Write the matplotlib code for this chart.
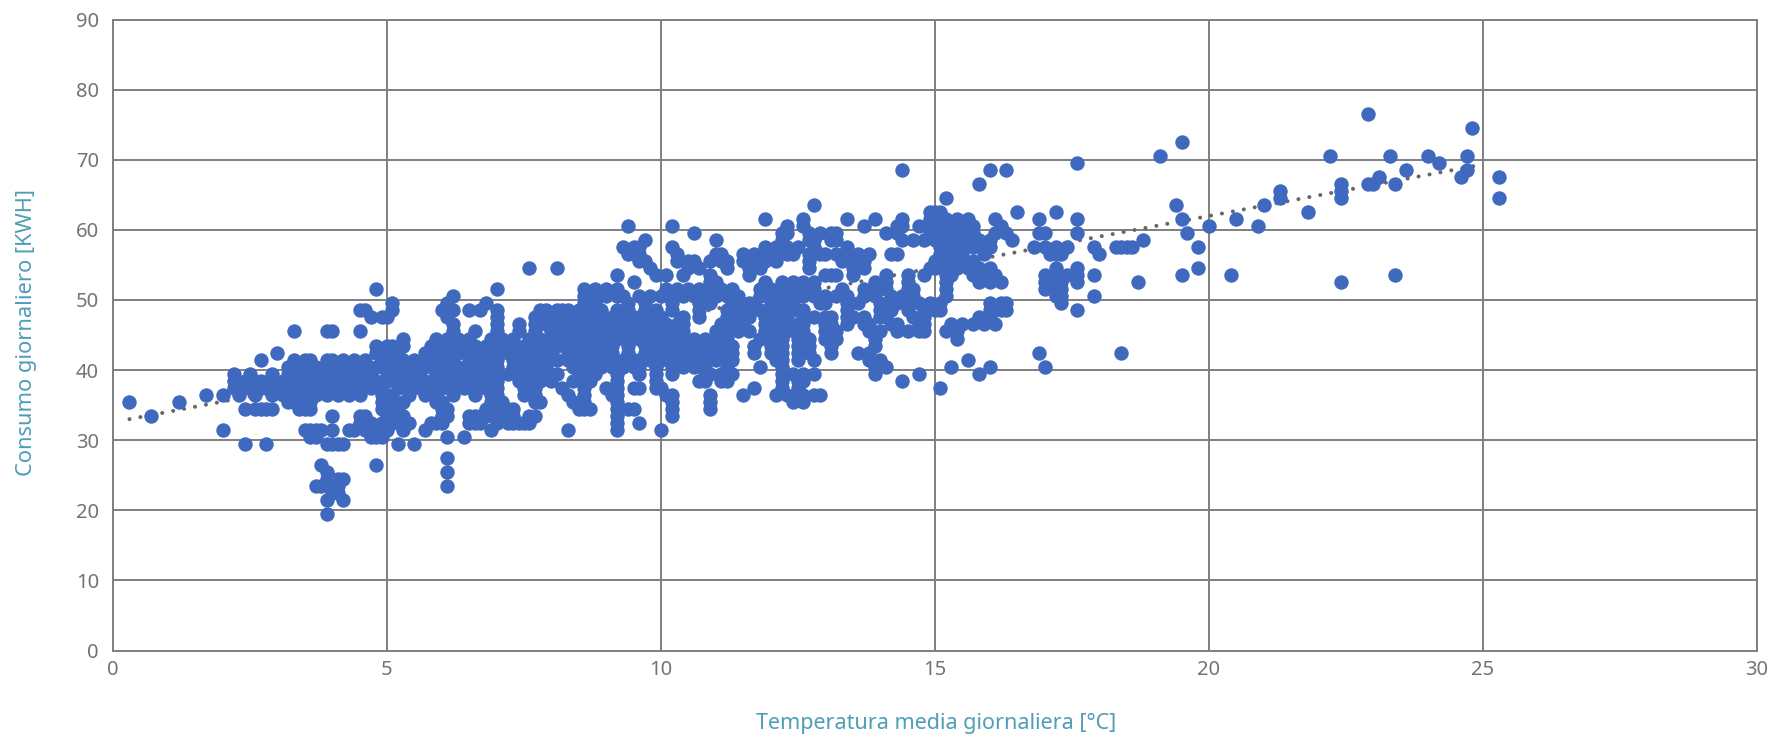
import matplotlib
matplotlib.use("Agg")
import matplotlib.pyplot as plt

x_label = "Temperatura media giornaliera [°C]"
y_label = "Consumo giornaliero [KWH]"
x_ticks = [0, 5, 10, 15, 20, 25, 30]
y_ticks = [0, 10, 20, 30, 40, 50, 60, 70, 80, 90]
trend_temp = [0.3, 24.84]
trend_kwh = [33.0, 69.1]

t765 = [22.9]
t745 = [24.8]
t725 = [19.5]
t705 = [19.1, 22.2, 23.3, 24.0, 24.7]
t695 = [17.6, 24.2]
t685 = [14.4, 16.0, 16.3, 23.6, 24.7]
t675 = [23.1, 24.6, 25.3]
t665 = [15.8, 22.4, 22.9, 23.0, 23.4]
t655 = [21.3, 22.4]
t645 = [15.2, 21.3, 22.4, 25.3]
t635 = [12.8, 19.4, 21.0]
t625 = [14.9, 15.0, 15.1, 16.5, 17.2, 21.8]
t615 = [11.9, 12.6, 13.4, 13.9, 14.4, 14.9, 15.0, 15.2, 15.4, 15.6, 16.1, 16.9, 17.6, 19.5, 20.5]
t605 = [9.4, 10.2, 12.3, 12.6, 13.7, 14.3, 14.4, 14.7, 14.9, 15.0, 15.2, 15.4, 15.5, 15.7, 16.2, 20.0, 20.9]
t595 = [10.6, 12.2, 12.3, 12.7, 12.9, 13.1, 13.2, 14.1, 14.3, 14.9, 15.1, 15.3, 15.5, 15.7, 16.1, 16.3, 16.9, 17.0, 17.6, 19.6]
t585 = [9.7, 11.0, 12.2, 12.7, 12.8, 13.1, 13.2, 14.4, 14.6, 14.8, 15.0, 15.2, 15.4, 15.6, 15.8, 16.0, 16.4, 18.8]
t575 = [9.3, 9.5, 9.6, 10.2, 11.9, 12.1, 12.3, 12.5, 12.8, 13.4, 15.1, 15.3, 15.5, 15.7, 15.9, 16.0, 16.8, 17.0, 17.2, 17.4, 17.9, 18.3, 18.4, 18.5, 18.6, 19.8]
t565 = [9.4, 9.5, 9.6, 10.3, 11.0, 11.1, 11.5, 11.7, 11.9, 12.1, 12.3, 12.4, 12.7, 12.9, 13.0, 13.2, 13.4, 13.6, 13.8, 14.2, 14.3, 15.1, 15.3, 15.5, 15.9, 17.1, 17.2, 17.3, 18.0]
t555 = [9.6, 9.7, 10.3, 10.5, 10.6, 10.9, 11.1, 11.2, 11.5, 11.7, 11.9, 12.1, 12.7, 13.3, 13.5, 13.7, 15.0, 15.2, 15.4, 15.5, 15.7]
t545 = [7.6, 8.1, 9.8, 10.5, 10.7, 11.2, 11.6, 11.8, 12.7, 13.5, 13.7, 14.9, 15.0, 15.2, 15.4, 15.6, 15.8, 16.0, 17.2, 17.6, 19.8]
t535 = [9.2, 9.9, 10.1, 10.4, 10.9, 11.6, 13.0, 13.1, 13.2, 13.5, 14.1, 14.5, 14.8, 15.2, 15.3, 15.7, 15.9, 16.1, 17.0, 17.2, 17.4, 17.6, 17.9, 19.5, 20.4, 23.4]
t525 = [9.5, 10.9, 11.0, 11.9, 12.2, 12.4, 12.6, 12.8, 13.9, 14.1, 14.5, 15.2, 15.8, 16.0, 16.2, 17.0, 17.2, 17.3, 17.6, 18.7, 22.4]
t515 = [4.8, 7.0, 8.6, 8.8, 9.0, 9.2, 10.1, 10.3, 10.5, 10.7, 10.9, 11.1, 11.3, 11.8, 12.0, 12.2, 12.4, 12.6, 12.8, 13.3, 13.7, 13.9, 14.1, 14.5, 14.6, 15.2, 17.0, 17.2, 17.3]
t505 = [6.2, 8.6, 8.8, 9.0, 9.2, 9.3, 9.6, 9.8, 10.0, 10.2, 10.4, 10.6, 10.8, 11.0, 11.2, 11.4, 11.8, 12.0, 12.2, 12.4, 12.6, 12.8, 13.0, 13.2, 13.4, 13.7, 13.9, 14.2, 14.4, 14.6, 15.2, 17.2, 17.3, 17.9]
t495 = [5.1, 6.1, 6.8, 8.6, 8.8, 9.4, 9.7, 10.2, 10.7, 10.9, 11.3, 11.6, 11.7, 12.0, 12.2, 12.4, 12.9, 13.0, 13.4, 13.6, 14.0, 14.2, 14.3, 14.5, 14.7, 14.9, 15.1, 16.0, 16.2, 16.3, 17.3]
t485 = [4.5, 4.6, 5.1, 6.0, 6.1, 6.2, 6.5, 6.7, 7.0, 7.8, 7.9, 8.1, 8.2, 8.3, 8.5, 8.7, 8.9, 9.2, 9.4, 9.7, 9.9, 10.2, 10.7, 11.2, 11.4, 11.6, 11.8, 12.0, 12.2, 12.4, 12.6, 13.4, 14.0, 14.2, 14.5, 14.8, 15.0, 15.1, 16.0, 16.2, 16.3, 17.6]
t475 = [4.7, 4.9, 5.0, 6.1, 7.0, 7.7, 7.8, 7.9, 8.0, 8.1, 8.2, 8.3, 8.5, 8.7, 8.9, 9.1, 9.3, 9.5, 9.6, 9.8, 10.0, 10.4, 10.7, 11.2, 11.4, 11.6, 11.9, 12.1, 12.3, 12.6, 12.8, 13.0, 13.1, 13.4, 13.5, 13.7, 14.0, 14.1, 14.6, 14.8, 15.8, 16.0]
t465 = [6.2, 7.0, 7.4, 7.7, 7.9, 8.1, 8.3, 8.5, 8.7, 8.9, 9.1, 9.3, 9.5, 9.7, 9.9, 10.1, 10.3, 10.4, 11.1, 11.3, 11.5, 11.9, 12.1, 12.3, 12.5, 12.6, 13.0, 13.1, 13.4, 13.7, 13.8, 14.2, 14.3, 14.7, 14.8, 15.3, 15.5, 15.7, 15.9, 16.1]
t455 = [3.3, 3.9, 4.0, 4.5, 6.2, 6.6, 7.0, 7.4, 7.7, 8.0, 8.2, 8.4, 8.6, 8.8, 9.0, 9.2, 9.4, 9.6, 9.8, 10.0, 10.2, 10.4, 11.0, 11.2, 11.4, 11.6, 11.9, 12.1, 12.3, 12.5, 12.6, 13.0, 13.2, 13.8, 14.0, 14.3, 14.5, 14.7, 14.8, 15.2, 15.4]
t445 = [5.3, 5.9, 6.1, 6.3, 6.5, 6.9, 7.1, 7.3, 7.6, 7.8, 8.0, 8.2, 8.4, 8.6, 8.8, 9.0, 9.2, 9.4, 9.6, 9.8, 10.0, 10.2, 10.4, 10.6, 10.8, 11.0, 11.2, 11.8, 12.0, 12.2, 12.5, 12.7, 13.0, 13.2, 13.9, 15.4]
t435 = [4.8, 5.0, 5.1, 5.3, 5.8, 6.0, 6.2, 6.4, 6.6, 6.8, 7.0, 7.2, 7.3, 7.5, 7.7, 7.9, 8.1, 8.3, 8.5, 8.7, 8.9, 9.1, 9.4, 9.7, 9.9, 10.1, 10.3, 10.5, 10.7, 10.9, 11.1, 11.3, 11.7, 12.0, 12.2, 12.5, 12.7, 13.1, 13.9]
t425 = [3.0, 4.8, 5.0, 5.2, 5.7, 5.9, 6.1, 6.3, 6.5, 6.7, 6.8, 7.0, 7.2, 7.4, 7.6, 7.8, 8.0, 8.3, 8.5, 8.7, 8.9, 9.1, 9.4, 9.7, 9.9, 10.1, 10.3, 10.5, 10.7, 10.9, 11.1, 11.3, 11.7, 12.0, 12.2, 12.5, 12.7, 13.1, 13.6, 13.8, 16.9, 18.4]
t415 = [2.7, 3.3, 3.5, 3.6, 3.9, 4.0, 4.2, 4.4, 4.6, 4.9, 5.1, 5.3, 5.5, 5.7, 5.9, 6.1, 6.2, 6.5, 6.7, 6.9, 7.0, 7.3, 7.5, 7.7, 7.9, 8.1, 8.3, 8.5, 8.7, 8.9, 9.1, 9.3, 9.5, 9.6, 9.8, 10.0, 10.2, 10.4, 10.6, 10.8, 11.0, 11.2, 11.3, 12.1, 12.2, 12.5, 12.8, 13.8, 14.0, 15.6]
t405 = [3.2, 3.4, 3.6, 3.7, 3.9, 4.1, 4.2, 4.4, 4.6, 4.8, 5.0, 5.2, 5.4, 5.6, 5.7, 5.9, 6.1, 6.3, 6.5, 6.7, 6.9, 7.0, 7.3, 7.5, 7.7, 7.9, 8.4, 8.5, 8.7, 8.9, 9.1, 9.3, 9.5, 9.6, 9.9, 10.2, 10.4, 10.6, 10.8, 11.2, 11.8, 12.2, 13.9, 14.1, 15.3, 16.0, 17.0]
t395 = [2.2, 2.5, 2.9, 3.2, 3.4, 3.6, 3.7, 3.9, 4.1, 4.3, 4.5, 4.7, 5.0, 5.2, 5.4, 5.6, 5.9, 6.1, 6.3, 6.5, 6.7, 6.9, 7.0, 7.2, 7.4, 7.6, 7.8, 8.0, 8.1, 8.5, 8.6, 8.8, 9.2, 9.6, 9.9, 10.2, 10.8, 10.9, 11.1, 11.3, 12.2, 12.4, 12.6, 12.8, 13.9, 14.7, 15.8]
t385 = [2.2, 2.4, 2.6, 2.7, 2.9, 3.1, 3.3, 3.5, 3.6, 3.7, 3.9, 4.1, 4.3, 4.5, 4.6, 4.8, 5.0, 5.2, 5.4, 5.6, 5.8, 6.0, 6.2, 6.4, 6.6, 6.8, 7.0, 7.4, 7.6, 7.8, 8.0, 8.4, 8.6, 8.7, 9.2, 9.9, 10.7, 10.8, 11.1, 11.2, 12.2, 12.5, 12.6, 14.4]
t375 = [2.2, 2.4, 2.6, 2.7, 2.8, 3.0, 3.2, 3.4, 3.6, 3.7, 3.9, 4.1, 4.3, 4.5, 4.7, 4.9, 5.2, 5.4, 5.6, 5.8, 6.0, 6.2, 6.4, 6.6, 6.8, 7.0, 7.5, 7.7, 8.2, 8.6, 9.0, 9.2, 9.5, 9.6, 9.9, 10.0, 11.7, 12.2, 12.5, 15.1]
t365 = [1.7, 2.0, 2.3, 2.6, 2.9, 3.1, 3.3, 3.5, 3.7, 3.9, 4.1, 4.3, 4.5, 4.9, 5.1, 5.4, 5.7, 5.9, 6.2, 6.6, 6.9, 7.0, 7.5, 7.7, 8.3, 8.6, 9.1, 9.2, 10.1, 10.2, 10.9, 11.5, 12.1, 12.3, 12.5, 12.6, 12.8, 12.9]
t355 = [0.3, 1.2, 3.2, 3.3, 3.4, 3.5, 3.6, 4.9, 5.0, 5.1, 5.3, 5.9, 6.0, 6.9, 7.0, 7.1, 7.7, 7.8, 8.4, 8.5, 8.6, 9.2, 10.2, 10.9, 12.4, 12.6]
t345 = [2.4, 2.6, 2.7, 2.8, 2.9, 3.4, 3.5, 3.6, 4.9, 5.0, 5.1, 5.2, 6.0, 6.1, 6.8, 6.9, 7.0, 7.1, 7.2, 7.3, 8.5, 8.6, 8.7, 9.2, 9.4, 9.5, 10.2, 10.9]
t335 = [0.7, 4.0, 4.5, 4.6, 5.0, 5.1, 5.3, 6.0, 6.1, 6.5, 6.6, 6.7, 6.8, 7.0, 7.1, 7.2, 7.3, 7.6, 7.7, 9.2, 10.2]
t325 = [4.5, 4.7, 4.9, 5.0, 5.1, 5.2, 5.3, 5.4, 5.8, 5.9, 6.0, 6.5, 6.6, 6.7, 7.0, 7.2, 7.3, 7.4, 7.5, 7.6, 9.2, 9.6]
t315 = [2.0, 3.5, 3.6, 3.7, 3.8, 4.0, 4.3, 4.4, 4.6, 4.7, 4.8, 4.9, 5.0, 5.3, 5.7, 6.9, 8.3, 9.2, 10.0]
t305 = [3.6, 3.7, 4.7, 4.8, 4.9, 6.1, 6.4]
t295 = [2.4, 2.8, 3.9, 4.0, 4.1, 4.2, 5.2, 5.5]
t275 = [6.1]
t265 = [3.8, 4.8]
t255 = [3.9, 6.1]
t245 = [3.9, 4.0, 4.1, 4.2]
t235 = [3.7, 3.8, 4.0, 4.1, 6.1]
t225 = [4.0, 4.1]
t215 = [3.9, 4.2]
t195 = [3.9]

kwh_levels = [76.5, 74.5, 72.5, 70.5, 69.5, 68.5, 67.5, 66.5, 65.5, 64.5, 63.5, 62.5, 61.5, 60.5,
              59.5, 58.5, 57.5, 56.5, 55.5, 54.5, 53.5, 52.5, 51.5, 50.5, 49.5, 48.5, 47.5, 46.5,
              45.5, 44.5, 43.5, 42.5, 41.5, 40.5, 39.5, 38.5, 37.5, 36.5, 35.5, 34.5, 33.5, 32.5,
              31.5, 30.5, 29.5, 27.5, 26.5, 25.5, 24.5, 23.5, 22.5, 21.5, 19.5]
temps_by_level = [t765, t745, t725, t705, t695, t685, t675, t665, t655, t645, t635, t625, t615, t605,
                  t595, t585, t575, t565, t555, t545, t535, t525, t515, t505, t495, t485, t475, t465,
                  t455, t445, t435, t425, t415, t405, t395, t385, t375, t365, t355, t345, t335, t325,
                  t315, t305, t295, t275, t265, t255, t245, t235, t225, t215, t195]

temperature = [t for ts in temps_by_level for t in ts]
consumption = [k for k, ts in zip(kwh_levels, temps_by_level) for _ in ts]

plt.rcParams["font.family"] = ["Noto Sans", "DejaVu Sans"]
GRID = "#7f7f7f"
TEXT = "#737373"
TEAL = "#4f9db8"
BLUE = "#3f69bf"

fig = plt.figure(figsize=(17.73, 7.38), dpi=100)
ax = fig.add_axes([113 / 1773, (738 - 650.5) / 738, (1757 - 113) / 1773, (650.5 - 19.5) / 738])
ax.set_xlim(0, 30)
ax.set_ylim(0, 90)
ax.set_xticks(x_ticks)
ax.set_yticks(y_ticks)
ax.grid(True, color=GRID, linewidth=1.4)
ax.set_axisbelow(True)
for s in ax.spines.values():
    s.set_color(GRID)
    s.set_linewidth(1.4)
ax.tick_params(length=0, labelsize=14.5, labelcolor=TEXT, pad=10)
ax.tick_params(axis="x", pad=7)

ax.plot(trend_temp, trend_kwh, color="#666666", linewidth=2.9,
        linestyle=(0, (0.01, 2.75)), dash_capstyle="round", zorder=2)
ax.scatter(temperature, consumption, s=108, color=BLUE, linewidths=0, zorder=3, clip_on=False)

fig.text(936 / 1773, 1 - 723 / 738, x_label, color=TEAL, fontsize=15.5, ha="center", va="center")
fig.text(27 / 1773, 1 - 333 / 738, y_label, color=TEAL, fontsize=15.7, ha="center", va="center", rotation=90)

fig.savefig("out.png", dpi=100, facecolor="white")
